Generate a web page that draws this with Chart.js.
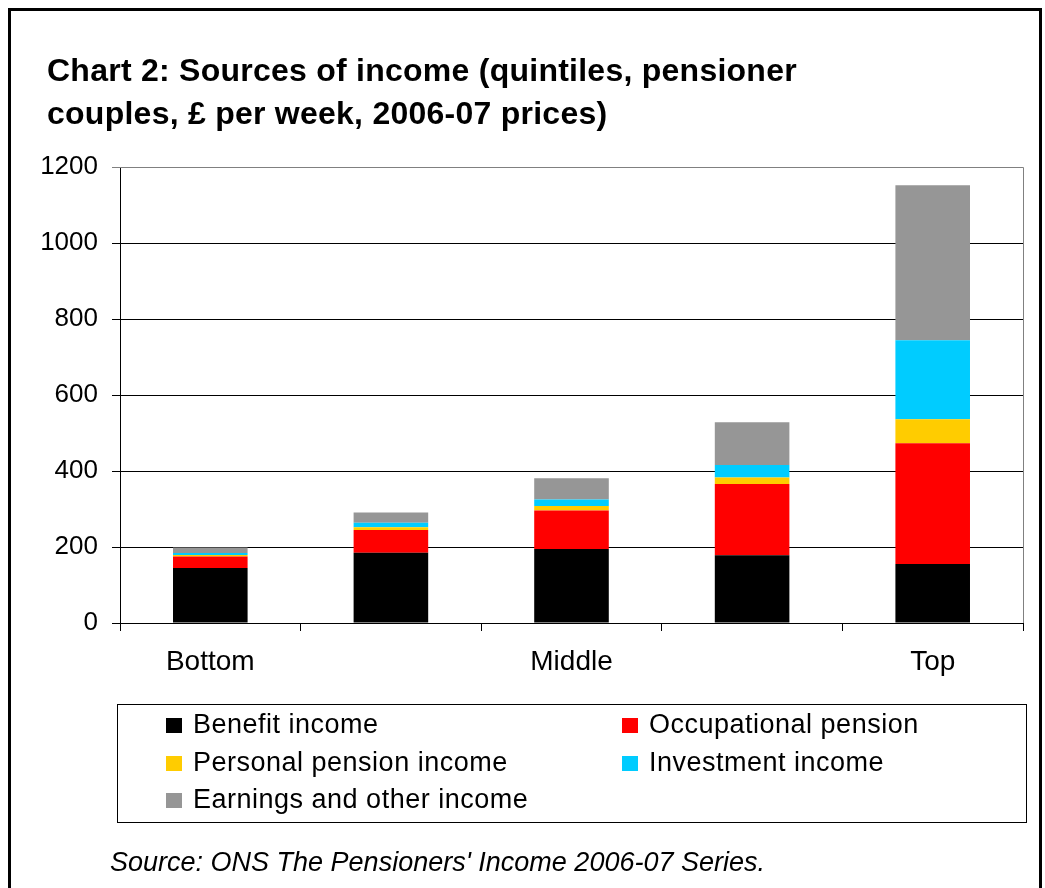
<!DOCTYPE html>
<html>
<head>
<meta charset="utf-8">
<script src="https://cdn.jsdelivr.net/npm/chart.js@4.4.1/dist/chart.umd.min.js"></script>
<style>
  html, body { margin: 0; padding: 0; background: #ffffff; }
  #wrap { width: 1045px; height: 888px; position: relative; }
</style>
</head>
<body>
<div id="wrap"><canvas id="c" width="1045" height="888"></canvas></div>
<script>
// Income quintiles (pensioner couples), £ per week, 2006-07 prices
const quintiles = ['Bottom', '', 'Middle', '', 'Top'];
const benefitIncome      = [145, 185, 195, 178, 155];
const occupationalPension = [30, 60, 101, 188, 318];
const personalPension    = [4, 7, 12, 17, 63];
const investmentIncome   = [5, 12, 17, 33, 208];
const earningsOther      = [15, 27, 56, 112, 408];

const seriesNames = ['Benefit income', 'Occupational pension', 'Personal pension income',
                     'Investment income', 'Earnings and other income'];
const seriesColors = ['#000000', '#FF0000', '#FFCC00', '#00CCFF', '#969696'];
const yTicks = { min: 0, max: 1200, step: 200 };

const titleLines = ['Chart 2: Sources of income (quintiles, pensioner',
                    'couples, £ per week, 2006-07 prices)'];
const sourceNote = "Source: ONS The Pensioners' Income 2006-07 Series.";

const FONT = '"Liberation Sans", Arial, sans-serif';

const seriesData = [benefitIncome, occupationalPension, personalPension, investmentIncome, earningsOther];
const datasets = seriesData.map((d, i) => ({
  label: seriesNames[i],
  data: d,
  backgroundColor: seriesColors[i],
  borderWidth: 0,
  barPercentage: 0.413,
  categoryPercentage: 1.0
}));

// Frame, title, plot border, legend box and source line
const decorations = {
  id: 'decorations',
  beforeDraw(chart) {
    const ctx = chart.ctx;
    ctx.save();
    ctx.fillStyle = '#ffffff';
    ctx.fillRect(0, 0, chart.width, chart.height);
    ctx.restore();
  },
  afterDraw(chart) {
    const ctx = chart.ctx;
    const a = chart.chartArea;
    const spacing = (v) => { if ('letterSpacing' in ctx) ctx.letterSpacing = v; };
    ctx.save();

    // plot area top/right border
    ctx.strokeStyle = '#808080';
    ctx.lineWidth = 1;
    ctx.beginPath();
    ctx.moveTo(a.left, a.top + 0.5);
    ctx.lineTo(a.right + 0.5, a.top + 0.5);
    ctx.lineTo(a.right + 0.5, a.bottom);
    ctx.stroke();

    // outer frame
    ctx.strokeStyle = '#000000';
    ctx.lineWidth = 3;
    ctx.strokeRect(9.5, 9.5, 1031, 900);

    // title
    ctx.fillStyle = '#000000';
    ctx.font = 'bold 32px ' + FONT;
    ctx.textBaseline = 'alphabetic';
    ctx.textAlign = 'left';
    spacing('0.25px');
    ctx.fillText(titleLines[0], 47, 81);
    ctx.fillText(titleLines[1], 47, 124);

    // legend box
    spacing('0.5px');
    ctx.strokeStyle = '#000000';
    ctx.lineWidth = 1;
    ctx.strokeRect(117.5, 704.5, 909, 118);
    const cols = [166, 622];
    const rows = [733, 771, 808];
    ctx.font = '27px ' + FONT;
    chart.data.datasets.forEach((ds, i) => {
      const x = cols[i % 2];
      const y = rows[Math.floor(i / 2)];
      ctx.fillStyle = ds.backgroundColor;
      ctx.fillRect(x, y - 15, 16, 15);
      ctx.fillStyle = '#000000';
      ctx.fillText(ds.label, x + 27, y);
    });

    // source note
    spacing('0px');
    ctx.font = 'italic 27px ' + FONT;
    ctx.fillText(sourceNote, 110, 871);
    ctx.restore();
  }
};

new Chart(document.getElementById('c'), {
  type: 'bar',
  data: { labels: quintiles, datasets },
  options: {
    responsive: false,
    animation: false,
    devicePixelRatio: 1,
    layout: { padding: { top: 167, right: 22, bottom: 0, left: 0 } },
    plugins: {
      legend: { display: false },
      title: { display: false },
      tooltip: { enabled: false }
    },
    scales: {
      x: {
        stacked: true,
        afterFit(scale) { scale.height = 265; },
        grid: {
          offset: true,
          drawOnChartArea: false,
          drawTicks: true,
          tickLength: 8,
          color: '#000000'
        },
        border: { display: true, color: '#000000', width: 1 },
        ticks: {
          autoSkip: false,
          maxRotation: 0,
          padding: 14,
          color: '#000000',
          font: { family: FONT, size: 28 }
        }
      },
      y: {
        stacked: true,
        min: yTicks.min,
        max: yTicks.max,
        afterFit(scale) { scale.width = 120; },
        grid: {
          drawTicks: true,
          tickLength: 8,
          color: (c) => (c.tick && c.tick.value === yTicks.max ? '#808080' : '#000000')
        },
        border: { display: true, color: '#000000', width: 1 },
        ticks: {
          stepSize: yTicks.step,
          padding: 14,
          color: '#000000',
          font: { family: FONT, size: 26 },
          callback: (v) => String(v)
        }
      }
    }
  },
  plugins: [decorations]
});
</script>
</body>
</html>
